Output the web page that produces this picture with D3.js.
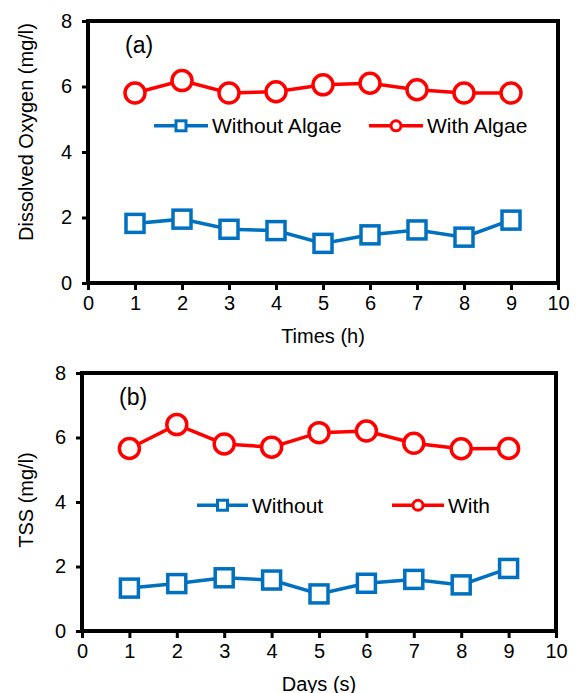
<!DOCTYPE html>
<html>
<head>
<meta charset="utf-8">
<script src="https://cdn.jsdelivr.net/npm/d3@7"></script>
<style>
  body { margin: 0; background: #fff; }
  svg text { font-family: Arial, "Liberation Sans", sans-serif; fill: #000; }
</style>
</head>
<body>
<div id="chart"></div>
<script>
// data
const xTicks = [0, 1, 2, 3, 4, 5, 6, 7, 8, 9, 10];
const yTicks = [0, 2, 4, 6, 8];
const hours = [1, 2, 3, 4, 5, 6, 7, 8, 9];
const oxyWithout = [1.82, 1.95, 1.64, 1.60, 1.21, 1.47, 1.62, 1.40, 1.92];
const oxyWith = [5.80, 6.18, 5.80, 5.84, 6.05, 6.10, 5.90, 5.80, 5.80];
const tssWithout = [1.33, 1.47, 1.65, 1.58, 1.15, 1.48, 1.60, 1.43, 1.94];
const tssWith = [5.66, 6.40, 5.80, 5.70, 6.15, 6.20, 5.82, 5.65, 5.66];

const BLUE = '#0070C0';
const RED = '#FF0000';

const svg = d3.select('#chart')
  .append('svg')
  .attr('width', 579)
  .attr('height', 693);

/**
 * Draws one boxed panel with two series
 */
function draw_panel (cfg) {
  const x = d3.scaleLinear().domain([0, 10]).range([cfg.left, cfg.right]);
  const y = d3.scaleLinear().domain([0, 8]).range([cfg.bottom, cfg.top]);

  // x axis
  const xa = svg.append('g')
    .attr('transform', `translate(0, ${cfg.bottom})`)
    .call(d3.axisBottom(x).tickValues(xTicks).tickSize(7).tickPadding(6).tickSizeOuter(0));
  // y axis
  const ya = svg.append('g')
    .attr('transform', `translate(${cfg.left}, 0)`)
    .call(d3.axisLeft(y).tickValues(yTicks).tickSize(6).tickPadding(10).tickSizeOuter(0));

  [xa, ya].forEach(a => {
    a.select('.domain').remove();
    a.selectAll('line').attr('stroke', '#000').attr('stroke-width', 3);
    a.selectAll('text').style('font-size', '20px');
  });

  // frame
  svg.append('rect')
    .attr('x', cfg.left)
    .attr('y', cfg.top)
    .attr('width', cfg.right - cfg.left)
    .attr('height', cfg.bottom - cfg.top)
    .attr('fill', 'none')
    .attr('stroke', '#000')
    .attr('stroke-width', 4);

  const line = d3.line()
    .x((d, i) => x(hours[i]))
    .y(d => y(d));

  // without series
  svg.append('path')
    .datum(cfg.without)
    .attr('d', line)
    .attr('fill', 'none')
    .attr('stroke', BLUE)
    .attr('stroke-width', 3.5);
  svg.append('g').selectAll('rect')
    .data(cfg.without)
    .join('rect')
    .attr('x', (d, i) => x(hours[i]) - 9)
    .attr('y', d => y(d) - 9)
    .attr('width', 18)
    .attr('height', 18)
    .attr('fill', '#fff')
    .attr('stroke', BLUE)
    .attr('stroke-width', 3.5);

  // with series
  svg.append('path')
    .datum(cfg.with)
    .attr('d', line)
    .attr('fill', 'none')
    .attr('stroke', RED)
    .attr('stroke-width', 3.5);
  svg.append('g').selectAll('circle')
    .data(cfg.with)
    .join('circle')
    .attr('cx', (d, i) => x(hours[i]))
    .attr('cy', d => y(d))
    .attr('r', 10)
    .attr('fill', '#fff')
    .attr('stroke', RED)
    .attr('stroke-width', 3.5);

  // panel label
  svg.append('text')
    .attr('x', cfg.left + 37)
    .attr('y', cfg.top + 32)
    .style('font-size', '23px')
    .text(cfg.label);

  // legend
  const ly = y(cfg.legendY);
  cfg.legend.forEach(l => {
    svg.append('line')
      .attr('x1', l.x1).attr('x2', l.x2)
      .attr('y1', ly).attr('y2', ly)
      .attr('stroke', l.color)
      .attr('stroke-width', 3.5);
    const mx = (l.x1 + l.x2) / 2;
    if (l.marker === 'square') {
      svg.append('rect')
        .attr('x', mx - 5).attr('y', ly - 5)
        .attr('width', 10).attr('height', 10)
        .attr('fill', '#fff').attr('stroke', l.color).attr('stroke-width', 3);
    } else {
      svg.append('circle')
        .attr('cx', mx).attr('cy', ly).attr('r', 5)
        .attr('fill', '#fff').attr('stroke', l.color).attr('stroke-width', 3);
    }
    svg.append('text')
      .attr('x', l.x2 + 4)
      .attr('y', ly)
      .attr('dy', '0.35em')
      .style('font-size', '21px')
      .text(l.text);
  });

  // axis titles
  svg.append('text')
    .attr('x', (cfg.left + cfg.right) / 2)
    .attr('y', cfg.bottom + 60)
    .attr('text-anchor', 'middle')
    .style('font-size', '20px')
    .text(cfg.xTitle);
  svg.append('text')
    .attr('transform', `translate(33, ${cfg.yTitleMid}) rotate(-90)`)
    .attr('text-anchor', 'middle')
    .style('font-size', '20px')
    .text(cfg.yTitle);
}

draw_panel({
  left: 88, right: 558, top: 21, bottom: 283,
  without: oxyWithout, with: oxyWith,
  label: '(a)',
  legendY: 4.8,
  legend: [
    { x1: 154, x2: 208, color: BLUE, marker: 'square', text: 'Without Algae' },
    { x1: 369, x2: 423, color: RED, marker: 'circle', text: 'With Algae' }
  ],
  xTitle: 'Times (h)',
  yTitle: 'Dissolved Oxygen (mg/l)',
  yTitleMid: 132
});

draw_panel({
  left: 82, right: 556, top: 373, bottom: 631,
  without: tssWithout, with: tssWith,
  label: '(b)',
  legendY: 3.9,
  legend: [
    { x1: 197, x2: 248, color: BLUE, marker: 'square', text: 'Without' },
    { x1: 392, x2: 444, color: RED, marker: 'circle', text: 'With' }
  ],
  xTitle: 'Days (s)',
  yTitle: 'TSS (mg/l)',
  yTitleMid: 500
});
</script>
</body>
</html>
